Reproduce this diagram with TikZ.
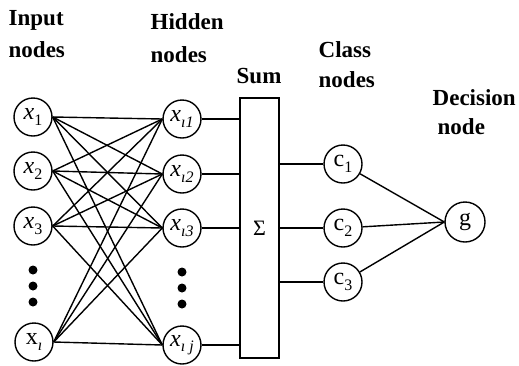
\documentclass[tikz,border=0pt]{standalone}
\usepackage{fontspec}
\setmainfont{Liberation Serif}
\newcommand\lowsub[1]{\raisebox{-0.5ex}{\fontsize{16}{16}\selectfont #1}}
\begin{document}
\begin{tikzpicture}[x=1pt,y=-1pt, line width=1.4pt,
  nd/.style={circle,draw,minimum size=38pt,inner sep=0pt,font=\fontsize{24}{24}\selectfont},
  lbl/.style={font=\bfseries\fontsize{23}{23}\selectfont,anchor=west,inner sep=0pt},
  bigdot/.style={circle,fill,inner sep=0pt,minimum size=9pt}]
\useasboundingbox (0,0) rectangle (519,365);
% labels
\node[lbl] (l1) at (8,20) {Input};
\node[lbl] (l2) at (8,50) {nodes};
\node[lbl] (l3) at (150,22) {Hidden};
\node[lbl] (l4) at (150,55) {nodes};
\node[lbl] (l5) at (236,76) {Sum};
\node[lbl] (l6) at (318,50) {Class};
\node[lbl] (l7) at (318,80) {nodes};
\node[lbl] (l8) at (432,98) {Decision};
\node[lbl] (l9) at (437,127) {node};
% input nodes
\node[nd] (i1) at (33,117) {\textit{x}\lowsub{1}};
\node[nd] (i2) at (33,171) {\textit{x}\lowsub{2}};
\node[nd] (i3) at (33,226) {\textit{x}\lowsub{3}};
\node[nd] (i4) at (34,342) {x\lowsub{\textit{ı}}};
% hidden nodes
\node[nd] (h1) at (182,119) {\textit{x}\lowsub{\textit{ı1}}};
\node[nd] (h2) at (182,174) {\textit{x}\lowsub{\textit{ı2}}};
\node[nd] (h3) at (182,228) {\textit{x}\lowsub{\textit{ı3}}};
\node[nd] (h4) at (182,345) {\textit{x}\lowsub{\textit{ı j}}};
% dots
\node[bigdot] (d1) at (33,270) {};
\node[bigdot] (d2) at (33,286) {};
\node[bigdot] (d3) at (33,302) {};
\node[bigdot] (d4) at (182,272) {};
\node[bigdot] (d5) at (182,288) {};
\node[bigdot] (d6) at (182,304) {};
% sum box
\node[draw,minimum width=39pt,minimum height=260pt,inner sep=0pt,font=\fontsize{22}{22}\selectfont] (S) at (259.5,228) {Σ};
% class nodes
\node[nd] (c1) at (343,164) {c\lowsub{1}};
\node[nd] (c2) at (343,228) {c\lowsub{2}};
\node[nd] (c3) at (343,282) {c\lowsub{3}};
\node[nd,minimum size=40pt] (g) at (465,222) {g};
% connectors
\foreach \a in {i1,i2,i3,i4}
  \foreach \b in {h1,h2,h3,h4}
    \draw (\a.east) -- (\b.west);
\foreach \b in {h1,h2,h3,h4}
  \draw (\b.east) -- (\b.east -| S.west);
\foreach \c in {c1,c2,c3}
  {\draw (\c.west -| S.east) -- (\c.west);
   \draw (\c) -- (g.west);}
\end{tikzpicture}
\end{document}
